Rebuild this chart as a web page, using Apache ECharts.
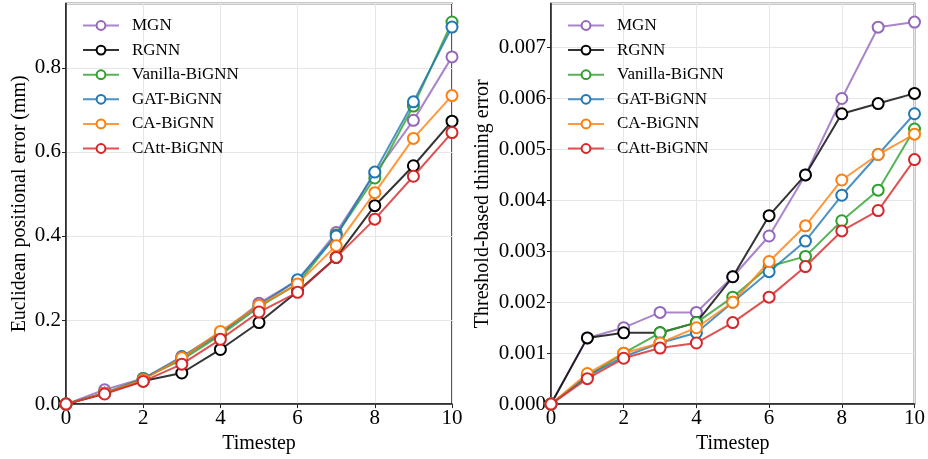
<!DOCTYPE html>
<html>
<head>
<meta charset="utf-8">
<script src="https://cdn.jsdelivr.net/npm/echarts@6/dist/echarts.min.js"></script>
<style>html,body{margin:0;padding:0;background:#fff;}#c{width:928px;height:459px;}</style>
</head>
<body>
<div id="c"></div>
<script>
const timesteps = [0,1,2,3,4,5,6,7,8,9,10];
const seriesNames = ['MGN','RGNN','Vanilla-BiGNN','GAT-BiGNN','CA-BiGNN','CAtt-BiGNN'];
const seriesColors = ['#9467bd','#000000','#2ca02c','#1f77b4','#ff7f0e','#d62728'];

// Left: Euclidean positional error (mm)
const posMGN     = [0,0.034,0.061,0.110,0.167,0.240,0.294,0.408,0.548,0.675,0.826];
const posRGNN    = [0,0.026,0.055,0.074,0.130,0.194,0.268,0.349,0.472,0.567,0.673];
const posVanilla = [0,0.026,0.061,0.105,0.164,0.231,0.286,0.402,0.538,0.709,0.909];
const posGAT     = [0,0.026,0.060,0.113,0.170,0.235,0.296,0.400,0.552,0.719,0.897];
const posCA      = [0,0.026,0.058,0.110,0.173,0.235,0.286,0.377,0.503,0.632,0.734];
const posCAtt    = [0,0.024,0.054,0.095,0.154,0.219,0.266,0.349,0.440,0.542,0.646];

// Right: Threshold-based thinning error
const thinMGN     = [0,0.0013,0.0015,0.0018,0.0018,0.0025,0.0033,0.0045,0.0060,0.0074,0.0075];
const thinRGNN    = [0,0.0013,0.0014,0.0014,0.0016,0.0025,0.0037,0.0045,0.0057,0.0059,0.0061];
const thinVanilla = [0,0.00055,0.0010,0.0014,0.0016,0.0021,0.0027,0.0029,0.0036,0.0042,0.0054];
const thinGAT     = [0,0.00055,0.00093,0.0012,0.0014,0.0020,0.0026,0.0032,0.0041,0.0049,0.0057];
const thinCA      = [0,0.0006,0.0010,0.0012,0.0015,0.0020,0.0028,0.0035,0.0044,0.0049,0.0053];
const thinCAtt    = [0,0.0005,0.0009,0.0011,0.0012,0.0016,0.0021,0.0027,0.0034,0.0038,0.0048];

const leftData = [posMGN,posRGNN,posVanilla,posGAT,posCA,posCAtt];
const rightData = [thinMGN,thinRGNN,thinVanilla,thinGAT,thinCA,thinCAtt];

const FONT = '"Liberation Serif", "Times New Roman", serif';
const axisColor = '#222';
const gridColor = '#e6e6e6';

function xAx(gi){
  return {
    type:'value', gridIndex:gi, min:0, max:10, interval:2,
    name:'Timestep', nameLocation:'middle', nameGap:27,
    nameTextStyle:{fontFamily:FONT,fontSize:20,color:'#000'},
    axisLine:{show:true,onZero:false,lineStyle:{color:axisColor,width:1.5}},
    axisTick:{show:true,inside:false,length:4,lineStyle:{color:axisColor,width:1}},
    axisLabel:{fontFamily:FONT,fontSize:21,color:'#000',margin:4},
    splitLine:{show:true,lineStyle:{color:gridColor,width:1}}
  };
}
function yAx(gi,max,interval,dec,name,gap){
  return {
    type:'value', gridIndex:gi, min:0, max:max, interval:interval,
    name:name, nameLocation:'middle', nameGap:gap,
    nameTextStyle:{fontFamily:FONT,fontSize:20,color:'#000'},
    axisLine:{show:true,lineStyle:{color:axisColor,width:1.5}},
    axisTick:{show:true,inside:false,length:4,lineStyle:{color:axisColor,width:1}},
    axisLabel:{fontFamily:FONT,fontSize:21,color:'#000',margin:5,showMaxLabel:false,
      formatter:function(v){
        const k = v/interval;
        if (Math.abs(k-Math.round(k))>1e-6) return '';
        return v.toFixed(dec);
      }},
    splitLine:{show:true,lineStyle:{color:gridColor,width:1}}
  };
}

const series = [];
[leftData,rightData].forEach(function(set,gi){
  set.forEach(function(vals,i){
    series.push({
      name:seriesNames[i], type:'line', xAxisIndex:gi, yAxisIndex:gi,
      data:timesteps.map(function(t,j){return [t,vals[j]];}),
      symbol:'emptyCircle', symbolSize:11, showSymbol:true,
      lineStyle:{color:seriesColors[i],width:2,opacity:0.8},
      itemStyle:{color:seriesColors[i],borderColor:seriesColors[i],borderWidth:1.5},
      z:2+i, animation:false, clip:false
    });
  });
});

function legend(left){
  return {
    orient:'vertical', left:left, top:17, padding:0, itemWidth:36, itemHeight:11, itemGap:7.6,
    data:seriesNames, selectedMode:false,
    textStyle:{fontFamily:FONT,fontSize:17,color:'#000',padding:[0,0,0,8]}
  };
}

const chart = echarts.init(document.getElementById('c'),null,{renderer:'canvas'});
chart.setOption({
  backgroundColor:'#fff',
  animation:false,
  grid:[
    {left:66,right:476,top:3.5,bottom:53,show:true,borderColor:axisColor,borderWidth:1.5,containLabel:false},
    {left:551,right:13,top:3.5,bottom:53,show:true,borderColor:axisColor,borderWidth:1.5,containLabel:false}
  ],
  xAxis:[xAx(0),xAx(1)],
  yAxis:[
    yAx(0,0.953,0.2,1,'Euclidean positional error (mm)',36),
    yAx(1,0.007865,0.001,3,'Threshold-based thinning error',58)
  ],
  legend:[legend(82),legend(567)],
  series:series
});
</script>
</body>
</html>
